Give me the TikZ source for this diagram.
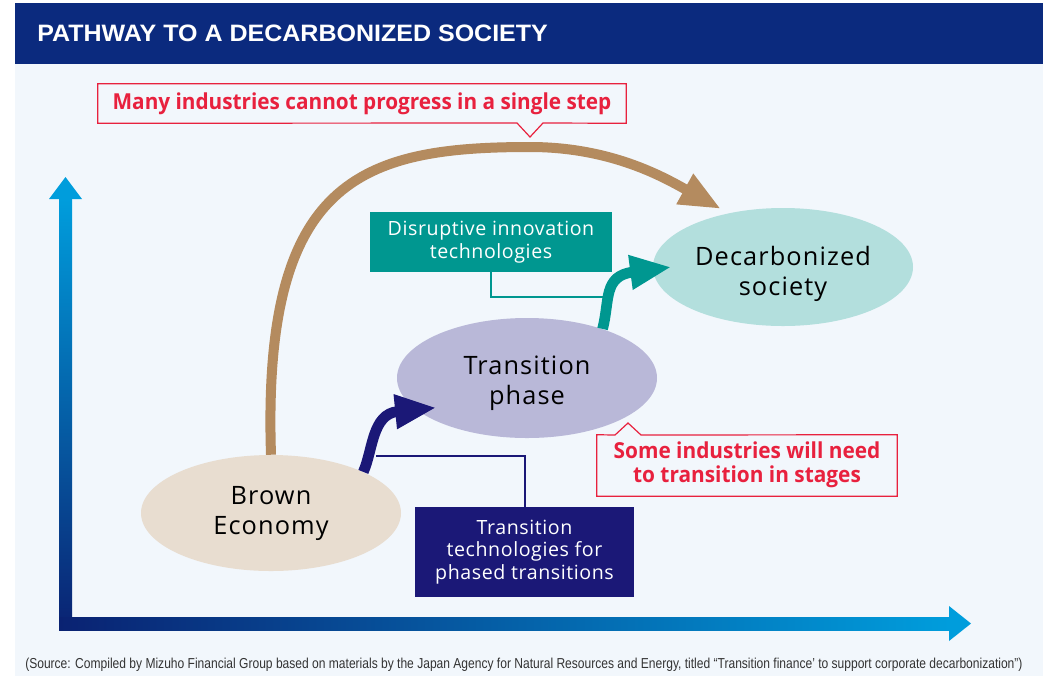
\documentclass[tikz,border=0pt]{standalone}
\usepackage{fontspec}
\setmainfont{Open Sans}
\newfontfamily\headfont{Liberation Sans}
\usepackage{graphicx}
\usepackage{tikz}
\usetikzlibrary{shapes.geometric,arrows.meta}

\definecolor{headnavy}{HTML}{0B2A7E}
\definecolor{panelbg}{HTML}{F2F7FC}
\definecolor{arcbrown}{HTML}{B48B5F}
\definecolor{brownfill}{HTML}{E8DDD0}
\definecolor{phasefill}{HTML}{B9B8D8}
\definecolor{decarbfill}{HTML}{B3DFDD}
\definecolor{techteal}{HTML}{009790}
\definecolor{technavy}{HTML}{1B1877}
\definecolor{notered}{HTML}{E8213E}
\definecolor{axisnavy}{HTML}{0A2272}
\definecolor{axiscyan}{HTML}{009DDC}
\definecolor{footgray}{HTML}{333333}

\newcommand\stagefont{\fontsize{19}{22.5}\selectfont\addfontfeatures{LetterSpace=4.4}}
\newcommand\techfont{\fontsize{14.7}{16.8}\selectfont\addfontfeatures{LetterSpace=3}}
\newcommand\notefont{\bfseries\fontsize{16.5}{18}\selectfont}
% two centred lines, lowered by #1 inside the ellipse
\newcommand\stagelines[2]{\raisebox{#1}[0pt][0pt]{\begin{tabular}{@{}c@{}}#2\end{tabular}}}

\tikzset{
  stage/.style={ellipse,inner sep=0pt,minimum width=195pt,text=black,font=\stagefont},
  techbox/.style={rectangle,inner sep=0pt,align=center,text=white,font=\techfont},
  notebox/.style={rectangle,inner sep=0pt,fill=panelbg,text=notered,font=\notefont},
  noteline/.style={draw=notered,line width=0.9pt},
  patharrow/.style={line width=8pt,-{Triangle[length=31pt,width=24pt]}},
  techline/.style={line width=1.5pt}
}

\begin{document}
\begin{tikzpicture}[x=0.75pt,y=-0.75pt]
  \useasboundingbox (0,0) rectangle (1049,676);
  \fill[panelbg] (15,64) rectangle (1043,676);
  \fill[headnavy] (15,3) rectangle (1043,64);
  \node[anchor=base west,inner sep=0pt,text=white,font=\headfont\bfseries\fontsize{17.8}{20}\selectfont] (title) at (37,41) {\resizebox{383pt}{\height}{PATHWAY TO A DECARBONIZED SOCIETY}};

  % axes
  \shade[bottom color=axisnavy,top color=axiscyan] (59,630) rectangle (72,199);
  \fill[axiscyan] (49,199) -- (65.5,177) -- (82,199) -- cycle;
  \shade[left color=axisnavy,right color=axiscyan] (59,617) rectangle (950,630);
  \fill[axiscyan] (949,606) -- (971,623.5) -- (949,641) -- cycle;

  \node[stage,fill=brownfill,minimum height=87pt] (brown) at (271,513) {\stagelines{-4.75pt}{Brown\\Economy}};
  \node[stage,fill=phasefill,minimum height=90pt] (phase) at (527,378) {\stagelines{-8.75pt}{Transition\\phase}};
  \node[stage,fill=decarbfill,minimum height=88.5pt] (decarb) at (783,267) {\stagelines{-9.75pt}{Decarbonized\\society}};

  \node[techbox,fill=techteal,minimum width=181.5pt,minimum height=45pt] (disrupt) at (491,242) {Disruptive innovation\\technologies};
  \node[techbox,fill=technavy,minimum width=164.25pt,minimum height=67.5pt] (phased) at (524.5,552) {Transition\\technologies for\\phased transitions};
  \coordinate (tealjoint) at (606,297);
  \coordinate (navyjoint) at (376,456);
  \draw[techline,techteal] (disrupt.south) |- (tealjoint);
  \draw[techline,technavy] (phased.north) |- (navyjoint);

  \draw[patharrow,draw=arcbrown,line width=7.5pt] (brown.north) .. controls (262,180) and (360,147) .. (530,147)
    .. controls (612,147) and (665,178) .. ([yshift=4.5pt]decarb.140);
  \draw[patharrow,draw=techteal] (phase.33) .. controls (610,300) and (603,276) .. ([xshift=14pt]decarb.west);
  \draw[patharrow,draw=technavy] (brown.24) .. controls (373,450) and (372,414) .. ([shift={(16,-5)}]phase.198);

  \node[notebox,minimum width=396pt,minimum height=29.25pt] (single) at (362,103.5) {\resizebox{374pt}{\height}{Many industries cannot progress in a single step}};
  \coordinate (singletip) at (530,137);
  \draw[noteline] (single.south west) -- (single.north west) -- (single.north east) -- (single.south east)
    -- ([shift={(13,-14)}]singletip) -- (singletip) -- ([shift={(-13,-14)}]singletip) -- cycle;

  \node[notebox,minimum width=225pt,minimum height=45.75pt] (stages) at (747,465.5) {\resizebox{200pt}{\height}{\begin{tabular}{@{}c@{}}Some industries will need\\to transition in stages\end{tabular}}};
  \coordinate (stagestip) at (628,423);
  \draw[noteline] (stages.north west) -- ([shift={(-13,12)}]stagestip) -- (stagestip) -- ([shift={(13,12)}]stagestip)
    -- (stages.north east) -- (stages.south east) -- (stages.south west) -- cycle;

  \node[anchor=base west,inner sep=0pt,text=footgray,font=\headfont\fontsize{10.8}{12}\selectfont] (source) at (25,668) {\resizebox{748pt}{\height}{(Source: Compiled by Mizuho Financial Group based on materials by the Japan Agency for Natural Resources and Energy, titled “Transition finance’ to support corporate decarbonization”)}};
\end{tikzpicture}
\end{document}
